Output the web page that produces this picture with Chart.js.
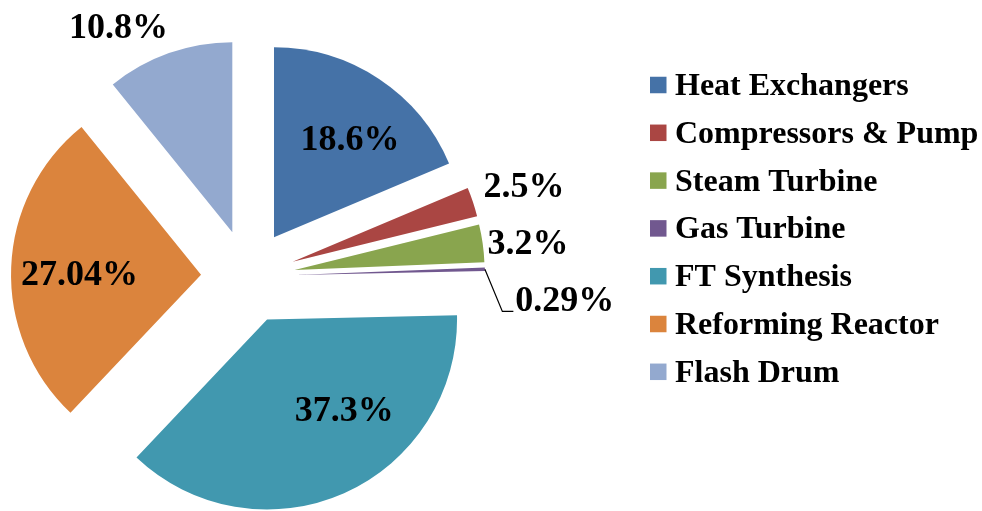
<!DOCTYPE html>
<html>
<head>
<meta charset="utf-8">
<script src="https://cdn.jsdelivr.net/npm/chart.js@4/dist/chart.umd.min.js"></script>
<style>
  html, body { margin: 0; padding: 0; background: #ffffff; }
  #wrap { width: 982px; height: 511px; position: relative; }
</style>
</head>
<body>
<div id="wrap"><canvas id="c"></canvas></div>
<script>
// ---- data ----
const categories = ['Heat Exchangers', 'Compressors & Pump', 'Steam Turbine', 'Gas Turbine', 'FT Synthesis', 'Reforming Reactor', 'Flash Drum'];
const shares = [18.6, 2.5, 3.2, 0.29, 37.3, 27.04, 10.8];

// ---- styles ----
const sliceColors = ['#4572A7', '#AA4643', '#89A54E', '#71588F', '#4198AF', '#DB843D', '#93A9CF'];
const EXPLODE = 47;            // px each slice is pulled out
const PIE_RADIUS = 190;
// label placement relative to each exploded slice: [angle shift (deg), radius factor]
const labelPlacement = [[3.8, 0.66], [0, 1.283], [1, 1.238], [6.8, 1.426], [-17, 0.62], [-1.4, 0.64], [-9.4, 1.24]];
const leaderFor = [false, false, false, true, false, false, false];
const LABEL_FONT = 'bold 36px "Liberation Serif", "Times New Roman", serif';
const LEGEND_FONT = 'bold 32px "Liberation Serif", "Times New Roman", serif';

const explodePlugin = {
  id: 'explode',
  beforeDatasetDraw(chart, args) {
    const ctx = chart.ctx;
    args.meta.data.forEach(arc => {
      const mid = (arc.startAngle + arc.endAngle) / 2;
      ctx.save();
      ctx.translate(Math.cos(mid) * EXPLODE, Math.sin(mid) * EXPLODE);
      arc.draw(ctx);
      ctx.restore();
    });
    return false;
  }
};

const labelPlugin = {
  id: 'sliceLabels',
  afterDatasetsDraw(chart) {
    const ctx = chart.ctx;
    const meta = chart.getDatasetMeta(0);
    ctx.save();
    ctx.font = LABEL_FONT;
    ctx.fillStyle = '#000000';
    ctx.textAlign = 'center';
    ctx.textBaseline = 'alphabetic';
    meta.data.forEach((arc, i) => {
      const mid = (arc.startAngle + arc.endAngle) / 2;
      const tipX = arc.x + Math.cos(mid) * EXPLODE;
      const tipY = arc.y + Math.sin(mid) * EXPLODE;
      const R = arc.outerRadius;
      const [dA, rf] = labelPlacement[i];
      const a = mid + dA * Math.PI / 180;
      const cx = tipX + Math.cos(a) * rf * R;
      const cy = tipY + Math.sin(a) * rf * R;
      const text = String(shares[i]) + '%';
      const baseline = cy + 12.5;
      ctx.fillText(text, cx, baseline);
      if (leaderFor[i]) {
        const w = ctx.measureText(text).width;
        const left = cx - w / 2;
        const ex = tipX + Math.cos(mid) * R;
        const ey = tipY + Math.sin(mid) * R;
        ctx.beginPath();
        ctx.strokeStyle = '#000000';
        ctx.lineWidth = 1.2;
        ctx.moveTo(ex, ey);
        ctx.lineTo(left - 13, baseline);
        ctx.lineTo(left - 2, baseline);
        ctx.stroke();
      }
    });
    ctx.restore();
  }
};

const legendPlugin = {
  id: 'sideLegend',
  afterDraw(chart) {
    const ctx = chart.ctx;
    const colors = chart.data.datasets[0].backgroundColor;
    const boxX = 650, box = 16.5, textX = 675, firstY = 85, step = 47.8;
    ctx.save();
    ctx.font = LEGEND_FONT;
    ctx.textAlign = 'left';
    ctx.textBaseline = 'alphabetic';
    chart.data.labels.forEach((lab, i) => {
      const yc = firstY + i * step;
      ctx.fillStyle = colors[i];
      ctx.fillRect(boxX, yc - box / 2, box, box);
      ctx.fillStyle = '#000000';
      ctx.fillText(lab, textX, yc + 10);
    });
    ctx.restore();
  }
};

new Chart(document.getElementById('c'), {
  type: 'pie',
  data: {
    labels: categories,
    datasets: [{
      data: shares,
      backgroundColor: sliceColors,
      borderWidth: 0
    }]
  },
  options: {
    responsive: true,
    maintainAspectRatio: false,
    animation: false,
    radius: PIE_RADIUS,
    layout: { padding: { left: 0, right: 486, top: 42, bottom: 0 } },
    plugins: {
      legend: { display: false },
      tooltip: { enabled: false },
      title: { display: false }
    }
  },
  plugins: [explodePlugin, labelPlugin, legendPlugin]
});
</script>
</body>
</html>
